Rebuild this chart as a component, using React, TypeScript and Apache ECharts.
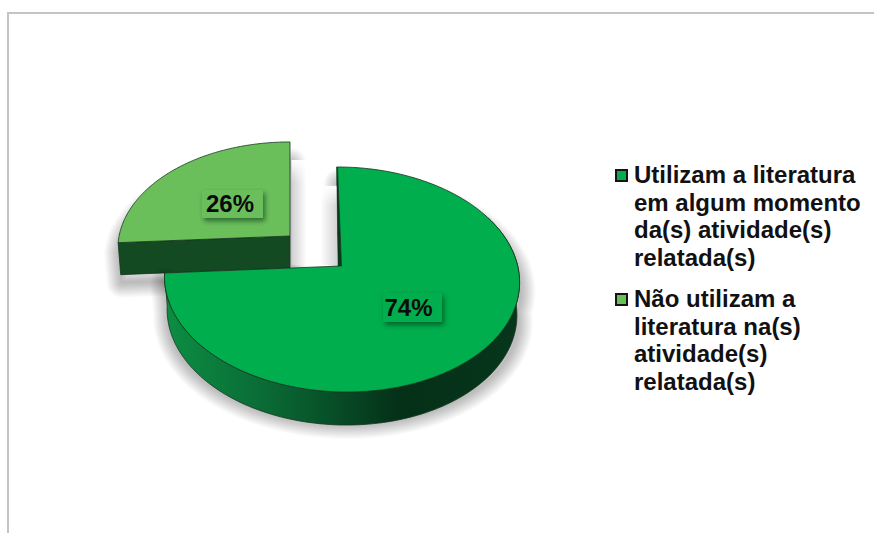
import React, { useEffect, useRef } from "react";
import * as echarts from "echarts";

// Survey result: share of reported activities that use literature.
const categories = [
  "Utilizam a literatura\nem algum momento\nda(s) atividade(s)\nrelatada(s)",
  "Não utilizam a\nliteratura na(s)\natividade(s)\nrelatada(s)",
];
const shares = [74, 26];

const faceColors = ["#00AE4D", "#6ABF5B"];
const FONT = '"Liberation Sans", Arial, sans-serif';

// Tilted-disc projection shared by both slices.
const RX = 176.2;
const RY = 110.9;
const PERSPECTIVE = 0.12;
const sliceLayout = [
  {
    x: 341.5, y: 266, scaleX: 1, scaleY: 1, shear: 0.04, depth: 33,
    box: [412.5, 307.5, 59, 29], textX: 408.5, textY: 307,
    shadowBase: 425, shadowFloor: 424, shadowSquash: 0.93, shadowDx: 1,
  },
  {
    x: 290, y: 236, scaleX: 0.97, scaleY: 0.95, shear: 0, depth: 32,
    box: [232.5, 204, 61, 28], textX: 230, textY: 203,
    shadowBase: 273, shadowFloor: 281, shadowSquash: 0.9, shadowDx: 1,
  },
];
type Layout = (typeof sliceLayout)[number];

const total = shares.reduce((a, b) => a + b, 0);

function project(theta: number, d: number, g: Layout) {
  const u = Math.sin(theta);
  const v = Math.cos(theta);
  const w = 1 + PERSPECTIVE * v;
  const x0 = (g.scaleX * RX * u) / w;
  const y0 = (-g.scaleY * RY * v) / w;
  return [g.x + (x0 + g.shear * y0) * (1 - 0.015 * d), g.y + y0 + g.depth * d];
}

function arc(from: number, to: number, d: number, g: Layout) {
  const pts: number[][] = [];
  const n = 140;
  for (let i = 0; i <= n; i++) pts.push(project(from + ((to - from) * i) / n, d, g));
  return pts;
}

// Soft drop shadow built from stacked translucent outlines of growing width.
function softShadow(outline: number[][], g: Layout) {
  const cast = outline.map(([x, y]) => [
    x + g.shadowDx,
    g.shadowFloor + (y - g.shadowBase) * g.shadowSquash,
  ]);
  const layers = 14;
  const reach = 15;
  const out: any[] = [];
  for (let i = 0; i < layers; i++) {
    out.push({
      type: "polygon",
      silent: true,
      shape: { points: cast },
      style: {
        fill: "none",
        stroke: "rgba(0,0,0,0.02)",
        lineWidth: (2 * reach * (i + 1)) / layers,
        lineJoin: "round",
      },
    });
  }
  return out;
}

// Shadow bands in the gap left by the detached slice, each faded in at its top.
function gapShadeGraphics() {
  const main = sliceLayout[0];
  const detached = sliceLayout[1];
  const floorY = main.y - 1;
  const rimTop = project(0, 0, main);
  const wallX = (y: number) =>
    rimTop[0] - 1.5 + ((main.x - 4 - rimTop[0] + 1.5) * (y - rimTop[1])) / (main.y - rimTop[1]);
  const fade = new echarts.graphic.LinearGradient(0, 0, 0, 1, [
    { offset: 0, color: "rgba(255,255,255,1)" },
    { offset: 1, color: "rgba(255,255,255,0)" },
  ]);
  const leftX = detached.x + 1.5;
  const bandTop = [160, 186];
  return [
    {
      type: "rect",
      silent: true,
      z: 100,
      shape: { x: leftX, y: bandTop[0], width: 15, height: floorY - bandTop[0] },
      style: {
        fill: new echarts.graphic.LinearGradient(0, 0, 1, 0, [
          { offset: 0, color: "#CFCFCF" },
          { offset: 1, color: "#FFFFFF" },
        ]),
      },
    },
    {
      type: "rect",
      silent: true,
      z: 101,
      shape: { x: leftX, y: bandTop[0], width: 15, height: 22 },
      style: { fill: fade },
    },
    {
      type: "polygon",
      silent: true,
      z: 100,
      shape: {
        points: [
          [wallX(bandTop[1]) - 16, bandTop[1]],
          [wallX(bandTop[1]), bandTop[1]],
          [wallX(floorY), floorY],
          [wallX(floorY) - 16, floorY],
        ],
      },
      style: {
        fill: new echarts.graphic.LinearGradient(0, 0, 1, 0, [
          { offset: 0, color: "#FFFFFF" },
          { offset: 1, color: "#D2D2D2" },
        ]),
      },
    },
    {
      type: "polygon",
      silent: true,
      z: 101,
      shape: {
        points: [
          [wallX(bandTop[1]) - 16, bandTop[1]],
          [wallX(bandTop[1]), bandTop[1]],
          [wallX(bandTop[1] + 20), bandTop[1] + 20],
          [wallX(bandTop[1] + 20) - 16, bandTop[1] + 20],
        ],
      },
      style: { fill: fade },
    },
  ];
}

function makeRenderItem(index: number) {
  const g = sliceLayout[index];
  const before = shares.slice(0, index).reduce((a, b) => a + b, 0);
  return (_params: unknown, api: any) => {
    const value = api.value(0);
    const start = (before / total) * Math.PI * 2;
    const end = ((before + value) / total) * Math.PI * 2;
    const apexTop = [g.x, g.y];
    const apexBottom = [apexTop[0], apexTop[1] + g.depth];
    const rim = arc(start, end, 0, g);
    const outline = { stroke: "#17351f", lineWidth: 0.8 };
    const children: any[] = [];

    if (index === 0) {
      const sideFrom = Math.PI * 0.35;
      const lowRim = arc(sideFrom, end, 1, g);
      const side = [...arc(sideFrom, end, 0, g), ...lowRim.slice().reverse()];
      children.push(...softShadow([...rim, ...lowRim.slice().reverse(), apexTop], g));
      children.push({
        type: "polygon",
        shape: { points: side },
        style: {
          fill: new echarts.graphic.LinearGradient(0, 0, 1, 0, [
            { offset: 0, color: "#0C8E43" },
            { offset: 0.28, color: "#0A6B35" },
            { offset: 0.5, color: "#074A25" },
            { offset: 0.66, color: "#053018" },
            { offset: 1, color: "#06361B" },
          ]),
          ...outline,
        },
      });
      // Thin inner wall visible along the first radius.
      const rimStart = rim[0];
      children.push({
        type: "polygon",
        shape: {
          points: [rimStart, apexTop, [apexTop[0] - 3.5, apexTop[1]], [rimStart[0] - 1, rimStart[1]]],
        },
        style: { fill: "#0A3A1C", stroke: "#0A3A1C", lineWidth: 0.6 },
      });
    } else {
      const front = project(start, 0, g);
      const frontLow = project(start, 1, g);
      children.push(...softShadow([...rim, apexTop, apexBottom, frontLow], g));
      children.push({
        type: "polygon",
        shape: { points: [front, apexTop, apexBottom, frontLow] },
        style: { fill: "#134A22", ...outline },
      });
    }

    children.push({
      type: "polygon",
      shape: { points: [...rim, apexTop] },
      style: { fill: faceColors[index], ...outline },
    });

    const [bx, by, bw, bh] = g.box;
    children.push({
      type: "rect",
      shape: { x: bx - bw / 2, y: by - bh / 2, width: bw, height: bh },
      style: {
        fill: faceColors[index],
        shadowBlur: 5,
        shadowColor: "rgba(0,50,20,0.6)",
        shadowOffsetX: 2,
        shadowOffsetY: 3,
      },
    });
    children.push({
      type: "text",
      style: {
        text: `${value}%`,
        x: g.textX,
        y: g.textY,
        align: "center",
        verticalAlign: "middle",
        font: `bold 24px ${FONT}`,
        fill: "#0b0b0b",
      },
    });
    return { type: "group", children };
  };
}

export default function App() {
  const ref = useRef<HTMLDivElement>(null);

  useEffect(() => {
    document.body.style.margin = "0";
    const chart = echarts.init(ref.current!, undefined, { renderer: "svg" });
    chart.setOption({
      animation: false,
      backgroundColor: "#ffffff",
      graphic: [
        {
          type: "polyline",
          silent: true,
          shape: { points: [[8, 533], [8, 13], [874, 13]] },
          style: { fill: "none", stroke: "#C4C4C4", lineWidth: 2 },
        },
        ...gapShadeGraphics(),
      ],
      legend: {
        orient: "vertical",
        left: 615,
        top: 160,
        padding: 0,
        data: categories,
        selectedMode: false,
        itemWidth: 11,
        itemHeight: 110,
        itemGap: 12,
        icon: "path://M0 0L0 0M0 9H11V20H0ZM0 110L0 110",
        itemStyle: { borderColor: "#141414", borderWidth: 2 },
        textStyle: {
          fontFamily: FONT,
          fontWeight: "bold",
          fontSize: 24,
          lineHeight: 27.7,
          color: "#111111",
          padding: [0, 0, 0, 2],
        },
      },
      // The detached slice goes first so its shadow stays off the larger slice.
      series: categories.map((name, i) => ({
        type: "custom",
        name,
        coordinateSystem: "none",
        z: 3 - i,
        itemStyle: { color: faceColors[i] },
        data: [[shares[i]]],
        renderItem: makeRenderItem(i),
      })),
    });
    return () => chart.dispose();
  }, []);

  return <div ref={ref} style={{ width: 874, height: 533 }} />;
}
